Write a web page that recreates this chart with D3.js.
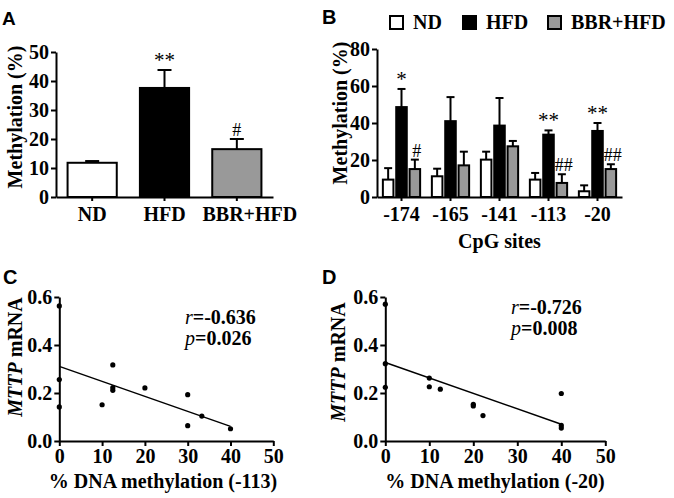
<!DOCTYPE html>
<html><head><meta charset="utf-8">
<script src="https://cdn.jsdelivr.net/npm/d3@7"></script>
<style>
body{margin:0;background:#fff;}
text{font-family:"Liberation Serif","Times New Roman",serif;font-weight:bold;fill:#000;}
.lab{font-family:"Liberation Sans",Arial,sans-serif;}
.domain,.tick line{stroke:#000;stroke-width:2px;}
</style></head>
<body>
<svg id="c" width="674" height="498"></svg>
<script>
// Panel A data
const groupsA = ["ND", "HFD", "BBR+HFD"];
const meanA = [11.8, 37.6, 16.5];
const errA = [0.6, 6.2, 3.5];
const sigA = ["", "**", "#"];
const colorsA = ["#ffffff", "#000000", "#999999"];

// Panel B data
const sitesB = ["-174", "-165", "-141", "-113", "-20"];
const ndB = [9.4, 11.2, 20.2, 9.4, 3.1];
const ndErrB = [6.2, 4.1, 4.3, 3.6, 3.2];
const hfdB = [48.6, 41.0, 38.6, 33.7, 35.7];
const hfdErrB = [9.8, 13.0, 14.9, 2.3, 4.3];
const bbrB = [15.1, 17.1, 27.4, 7.6, 15.1];
const bbrErrB = [5.1, 7.4, 2.9, 4.7, 2.6];
const hfdSigB = ["*", "", "", "**", "**"];
const bbrSigB = ["#", "", "", "##", "##"];

// Panel C data (-113)
const xC = [0, 0, 0, 10, 12.5, 12.5, 12.5, 20, 30, 30, 33.3, 40];
const yC = [0.563, 0.256, 0.142, 0.151, 0.317, 0.222, 0.211, 0.221, 0.193, 0.064, 0.104, 0.051];
const fitC = [0.311, -0.00625]; // intercept, slope
const statC = ["-0.636", "0.026"];

// Panel D data (-20)
const xD = [0, 0, 0, 10, 10, 12.5, 20, 20, 22.2, 40, 40, 40];
const yD = [0.57, 0.322, 0.224, 0.262, 0.226, 0.216, 0.153, 0.146, 0.106, 0.198, 0.065, 0.054];
const fitD = [0.327, -0.00643];
const statD = ["-0.726", "0.008"];

const ticksBar = [0, 10, 20, 30, 40, 50];
const ticksB = [0, 20, 40, 60, 80];
const ticksSy = [0, 0.2, 0.4, 0.6];
const ticksSx = [0, 10, 20, 30, 40, 50];

const svg = d3.select("#c");
const SERIF = "Liberation Serif, Times New Roman, serif";

function styleAxis(a, fs) {
  a.attr("font-family", SERIF).attr("font-size", fs).attr("font-weight", "bold");
  a.selectAll(".tick text").attr("font-family", SERIF).attr("font-weight", "bold").style("font-size", fs + "px");
}
function yAxis(g, scale, ticks, fmt, fs) {
  g.call(d3.axisLeft(scale).tickValues(ticks).tickFormat(fmt).tickSize(5).tickSizeOuter(0).tickPadding(2));
  styleAxis(g, fs);
}

// ---------- Panel A ----------
{
  const x = d3.scaleBand().domain(groupsA).range([56, 273]).paddingInner(0.32).paddingOuter(0.16);
  const y = d3.scaleLinear().domain([0, 50]).range([197, 52]);
  const g = svg.append("g");
  g.append("g").attr("transform", "translate(56,0)").call(a => yAxis(a, y, ticksBar, d3.format("d"), 20));
  const xa = g.append("g").attr("transform", "translate(0,197)")
    .call(d3.axisBottom(x).tickSize(4).tickSizeOuter(0).tickPadding(6));
  styleAxis(xa, 20);
  xa.selectAll(".tick text").attr("dx", d => d === "BBR+HFD" ? 13 : 0);
  groupsA.forEach((c, i) => {
    const cx = x(c) + x.bandwidth() / 2;
    g.append("line").attr("x1", cx).attr("x2", cx).attr("y1", y(meanA[i])).attr("y2", y(meanA[i] + errA[i])).attr("stroke", "#000").attr("stroke-width", 2);
    g.append("line").attr("x1", cx - 7).attr("x2", cx + 7).attr("y1", y(meanA[i] + errA[i])).attr("y2", y(meanA[i] + errA[i])).attr("stroke", "#000").attr("stroke-width", 2);
    g.append("rect").attr("x", x(c)).attr("width", x.bandwidth()).attr("y", y(meanA[i])).attr("height", y(0) - y(meanA[i]))
      .attr("fill", colorsA[i]).attr("stroke", "#000").attr("stroke-width", 2);
    if (sigA[i]) g.append("text").attr("x", cx).attr("y", y(meanA[i] + errA[i]) - 3).attr("text-anchor", "middle")
      .style("font-size", sigA[i] === "#" ? "18px" : "21px").style("font-weight", "normal").text(sigA[i]);
  });
  g.append("text").attr("transform", "translate(22,117) rotate(-90)").attr("text-anchor", "middle").style("font-size", "20px").text("Methylation (%)");
  g.append("text").attr("class", "lab").attr("x", 2).attr("y", 25).style("font-size", "19px").text("A");
}

// ---------- Panel B ----------
{
  const x0 = d3.scaleBand().domain(sitesB).range([377, 622]);
  const x1 = d3.scaleBand().domain(groupsA).range([0, x0.bandwidth()]).paddingInner(0.21).paddingOuter(0.44);
  const y = d3.scaleLinear().domain([0, 80]).range([197, 49]);
  const g = svg.append("g");
  g.append("g").attr("transform", "translate(377,0)").call(a => yAxis(a, y, ticksB, d3.format("d"), 20));
  const xa = g.append("g").attr("transform", "translate(0,197)")
    .call(d3.axisBottom(x0).tickSize(4).tickSizeOuter(0).tickPadding(6));
  styleAxis(xa, 20);
  const series = [[ndB, ndErrB, null], [hfdB, hfdErrB, hfdSigB], [bbrB, bbrErrB, bbrSigB]];
  sitesB.forEach((s, j) => {
    series.forEach(([vals, errs, sigs], i) => {
      const bx = x0(s) + x1(groupsA[i]);
      const cx = bx + x1.bandwidth() / 2;
      const top = y(vals[j] + errs[j]);
      g.append("line").attr("x1", cx).attr("x2", cx).attr("y1", y(vals[j])).attr("y2", top).attr("stroke", "#000").attr("stroke-width", 2);
      g.append("line").attr("x1", cx - 4).attr("x2", cx + 4).attr("y1", top).attr("y2", top).attr("stroke", "#000").attr("stroke-width", 2);
      g.append("rect").attr("x", bx).attr("width", x1.bandwidth()).attr("y", y(vals[j])).attr("height", y(0) - y(vals[j]))
        .attr("fill", colorsA[i]).attr("stroke", "#000").attr("stroke-width", 2);
      if (sigs && sigs[j]) g.append("text").attr("x", cx + (sigs[j][0] === "#" ? 2 : 0)).attr("y", top - 3).attr("text-anchor", "middle")
        .style("font-size", sigs[j][0] === "#" ? "18px" : "21px").style("font-weight", "normal").text(sigs[j]);
    });
  });
  g.append("text").attr("x", 499.5).attr("y", 248).attr("text-anchor", "middle").style("font-size", "20px").text("CpG sites");
  g.append("text").attr("transform", "translate(347,113) rotate(-90)").attr("text-anchor", "middle").style("font-size", "20px").text("Methylation (%)");
  g.append("text").attr("class", "lab").attr("x", 322).attr("y", 24).style("font-size", "20px").text("B");
  // legend
  const legX = [390, 463, 548];
  groupsA.forEach((c, i) => {
    g.append("rect").attr("x", legX[i]).attr("y", 16).attr("width", 13).attr("height", 13)
      .attr("fill", colorsA[i]).attr("stroke", "#000").attr("stroke-width", 2);
    g.append("text").attr("x", legX[i] + 23).attr("y", 29).style("font-size", "20px").text(c);
  });
}

// ---------- Scatter panels ----------
function scatter(xs, ys, fit, stat, x0px, x1px, xlabel, xlabX, statX, statY, ylabX, ylabY, letter, letterX) {
  const x = d3.scaleLinear().domain([0, 50]).range([x0px, x1px]);
  const y = d3.scaleLinear().domain([0, 0.6]).range([441, 297]);
  const g = svg.append("g");
  g.append("g").attr("transform", `translate(${x0px},0)`).call(a => yAxis(a, y, ticksSy, d3.format(".1f"), 20));
  const xa = g.append("g").attr("transform", "translate(0,441)")
    .call(d3.axisBottom(x).tickValues(ticksSx).tickSize(5).tickSizeOuter(0).tickPadding(3));
  styleAxis(xa, 20);
  g.append("line").attr("x1", x(0)).attr("x2", x(40)).attr("y1", y(fit[0])).attr("y2", y(fit[0] + fit[1] * 40))
    .attr("stroke", "#000").attr("stroke-width", 1.5);
  g.selectAll("circle").data(xs).join("circle").attr("cx", d => x(d)).attr("cy", (d, i) => y(ys[i])).attr("r", 2.6).attr("fill", "#000");
  g.append("text").attr("x", xlabX).attr("y", 488).attr("text-anchor", "middle").style("font-size", "20px").text(xlabel);
  const t1 = g.append("text").attr("x", statX).attr("y", statY).style("font-size", "20px");
  t1.append("tspan").style("font-style", "italic").style("font-weight", "normal").text("r");
  t1.append("tspan").text("=" + stat[0]);
  const t2 = g.append("text").attr("x", statX).attr("y", statY + 21).style("font-size", "20px");
  t2.append("tspan").style("font-style", "italic").style("font-weight", "normal").text("p");
  t2.append("tspan").text("=" + stat[1]);
  const yl = g.append("text").attr("transform", `translate(${ylabX},${ylabY}) rotate(-90)`).attr("text-anchor", "middle").style("font-size", "20px");
  yl.append("tspan").style("font-style", "italic").text("MTTP");
  yl.append("tspan").text(" mRNA");
  g.append("text").attr("class", "lab").attr("x", letterX).attr("y", 284).style("font-size", "20px").text(letter);
}
scatter(xC, yC, fitC, statC, 59.3, 273.3, "% DNA methylation (-113)", 163, 185, 324, 22, 357, "C", 3);
scatter(xD, yD, fitD, statD, 385.3, 605.3, "% DNA methylation (-20)", 495, 511, 314, 345, 362, "D", 322);
</script>
</body></html>
